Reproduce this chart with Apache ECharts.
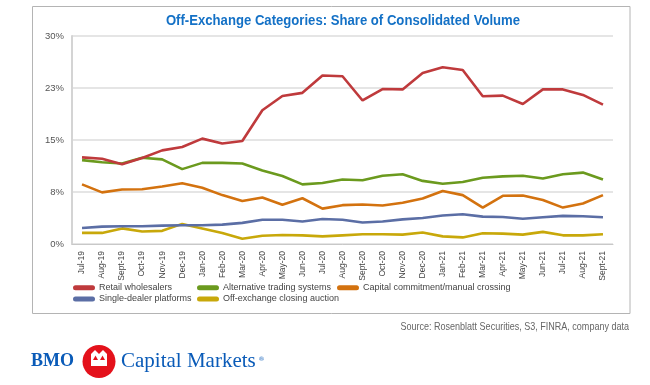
<!DOCTYPE html>
<html>
<head>
<meta charset="utf-8">
<script src="https://cdn.jsdelivr.net/npm/echarts@6/dist/echarts.min.js"></script>
<style>
html,body{margin:0;padding:0;background:#fff;}
#chart{width:650px;height:385px;}
</style>
</head>
<body>
<div id="chart"></div>
<script>
var categories = ['Jul-19','Aug-19','Sept-19','Oct-19','Nov-19','Dec-19','Jan-20','Feb-20','Mar-20','Apr-20','May-20','Jun-20','Jul-20','Aug-20','Sept-20','Oct-20','Nov-20','Dec-20','Jan-21','Feb-21','Mar-21','Apr-21','May-21','Jun-21','Jul-21','Aug-21','Sept-21'];
var retailWholesalers = [12.5,12.3,11.5,12.4,13.5,14.0,15.2,14.5,14.85,19.3,21.35,21.8,24.3,24.2,20.7,22.35,22.3,24.65,25.5,25.1,21.3,21.4,20.2,22.3,22.3,21.5,20.1];
var altTradingSystems = [12.1,11.8,11.6,12.45,12.2,10.8,11.7,11.7,11.6,10.6,9.8,8.6,8.8,9.3,9.2,9.85,10.05,9.1,8.7,8.95,9.55,9.75,9.85,9.45,10.05,10.3,9.3];
var capitalCommitment = [8.6,7.45,7.85,7.9,8.3,8.75,8.1,7.05,6.2,6.7,5.65,6.6,5.1,5.6,5.7,5.55,5.95,6.55,7.65,7.05,5.25,6.95,7.0,6.35,5.25,5.85,7.05];
var singleDealer = [2.3,2.5,2.55,2.55,2.65,2.7,2.7,2.8,3.05,3.5,3.5,3.25,3.6,3.5,3.1,3.25,3.55,3.75,4.1,4.3,3.95,3.9,3.65,3.85,4.05,4.0,3.85];
var closingAuction = [1.6,1.6,2.25,1.8,1.9,2.9,2.25,1.6,0.75,1.2,1.3,1.25,1.1,1.25,1.4,1.4,1.35,1.65,1.1,0.95,1.55,1.5,1.35,1.75,1.25,1.25,1.4];
var seriesNames = ['Retail wholesalers','Alternative trading systems','Capital commitment/manual crossing','Single-dealer platforms','Off-exchange closing auction'];
var yTickLabels = ['0%','8%','15%','23%','30%'];
var titleText = 'Off-Exchange Categories: Share of Consolidated Volume';
var sourceText = 'Source: Rosenblatt Securities, S3, FINRA, company data';

function hasFont(f) {
  var c = document.createElement('canvas').getContext('2d');
  var s = 'abcdefghijklmnopqrstuvwxyz ABCDEFGHIJKLM 0123456789%';
  c.font = '40px monospace'; var a = c.measureText(s).width;
  c.font = "40px '" + f + "', monospace"; var b = c.measureText(s).width;
  c.font = '40px serif'; var a2 = c.measureText(s).width;
  c.font = "40px '" + f + "', serif"; var b2 = c.measureText(s).width;
  return a !== b || a2 !== b2;
}
var NARROW = hasFont('Liberation Sans Narrow');
var FONT = NARROW ? "'Liberation Sans Narrow',sans-serif" : "'Liberation Sans',Arial,sans-serif";
var SX = NARROW ? 1 : 0.82;          // horizontal squeeze for free text
var TSX = NARROW ? 1.05 : 0.875;
var LEG_FS = NARROW ? 10.5 : 9;
var AX_FS = NARROW ? 10 : 8.5;
var Y_FS = NARROW ? 10.5 : 9.5;
var SERIF = "'Liberation Serif','DejaVu Serif',serif";

var colors = ['#bf3a3c','#6b9a1e','#d3720f','#5b6ea5','#c8a80a'];
var dataArr = [retailWholesalers, altTradingSystems, capitalCommitment, singleDealer, closingAuction];

var chart = echarts.init(document.getElementById('chart'), null, {renderer:'canvas'});
var series = [];
for (var i = dataArr.length - 1; i >= 0; i--) {
  series.push({
    name: seriesNames[i], type: 'line', data: dataArr[i], showSymbol: false, symbol:'none',
    lineStyle: {width: 2.6, color: colors[i]}, itemStyle: {color: colors[i]}, z: 10 - i
  });
}
var capsule = 'path://M2.5,0 L19.5,0 A2.5,2.5 0 0 1 19.5,5 L2.5,5 A2.5,2.5 0 0 1 2.5,0 Z';
var legendBase = {
  orient: 'vertical', itemWidth: 22, itemHeight: 5, itemGap: 0, icon: capsule,
  textStyle: {fontFamily: FONT, fontSize: LEG_FS, color: '#444', lineHeight: 11.3, padding: [0,0,0,-1]}, padding: 0
};
chart.setOption({
  animation: false,
  color: colors,
  grid: {left: 72, right: 37, top: 36, bottom: 141},
  xAxis: {
    type: 'category', data: categories, boundaryGap: true,
    axisLine: {lineStyle: {color: '#c8c8c8', width: 1}},
    axisTick: {show: false},
    axisLabel: {rotate: 90, interval: 0, margin: 7, fontFamily: FONT, fontSize: AX_FS, color: '#444'}
  },
  yAxis: {
    type: 'value', min: 0, max: 30, interval: 7.5,
    axisLine: {show: true, lineStyle: {color: '#d4d4d4', width: 2}},
    axisTick: {show: false},
    splitLine: {lineStyle: {color: '#dcdcdc', width: 1.5}},
    axisLabel: {margin: 8, fontFamily: FONT, fontSize: Y_FS, color: '#555',
      formatter: function (v, idx) { return yTickLabels[idx]; }}
  },
  legend: [
    Object.assign({}, legendBase, {left: 73, top: 282, data: [seriesNames[0], seriesNames[3]]}),
    Object.assign({}, legendBase, {left: 197, top: 282, data: [seriesNames[1], seriesNames[4]]}),
    Object.assign({}, legendBase, {left: 337, top: 282, data: [seriesNames[2]]})
  ],
  series: series,
  graphic: [
    {type: 'rect', shape: {x: 32.5, y: 6.5, width: 597.5, height: 307}, style: {fill: 'none', stroke: '#b4b4b4', lineWidth: 1}, silent: true, z: -1},
    {type: 'text', x: 343, y: 21, scaleX: TSX, style: {text: titleText, align: 'center', verticalAlign: 'middle', fontFamily: FONT, fontSize: 15, fontWeight: 'bold', fill: '#1471c6'}},
    {type: 'text', x: 629, y: 327, scaleX: SX, style: {text: sourceText, align: 'right', verticalAlign: 'middle', fontFamily: FONT, fontSize: 11, fill: '#666'}},
    {type: 'text', x: 31, y: 361.5, style: {text: 'BMO', align: 'left', verticalAlign: 'middle', fontFamily: SERIF, fontSize: 18, fontWeight: 'bold', fill: '#0a5bb8'}},
    {type: 'circle', shape: {cx: 99, cy: 361.5, r: 16.5}, style: {fill: '#e4111b'}},
    {type: 'polygon', shape: {points: [[91,366],[91,354],[95,350],[99,354],[103,350],[107,354],[107,366]]}, style: {fill: '#ffffff'}},
    {type: 'polygon', shape: {points: [[93,360],[95.5,355.5],[98,360]]}, style: {fill: '#e4111b'}},
    {type: 'polygon', shape: {points: [[100,360],[102.5,355.5],[105,360]]}, style: {fill: '#e4111b'}},
    {type: 'text', x: 121, y: 361.5, style: {text: 'Capital Markets', align: 'left', verticalAlign: 'middle', fontFamily: SERIF, fontSize: 21, fill: '#0a5bb8'}},
    {type: 'text', x: 258.5, y: 359, style: {text: '\u00AE', align: 'left', verticalAlign: 'middle', fontFamily: "'DejaVu Sans',sans-serif", fontSize: 6, fill: '#0a5bb8'}}
  ]
});
</script>
</body>
</html>
